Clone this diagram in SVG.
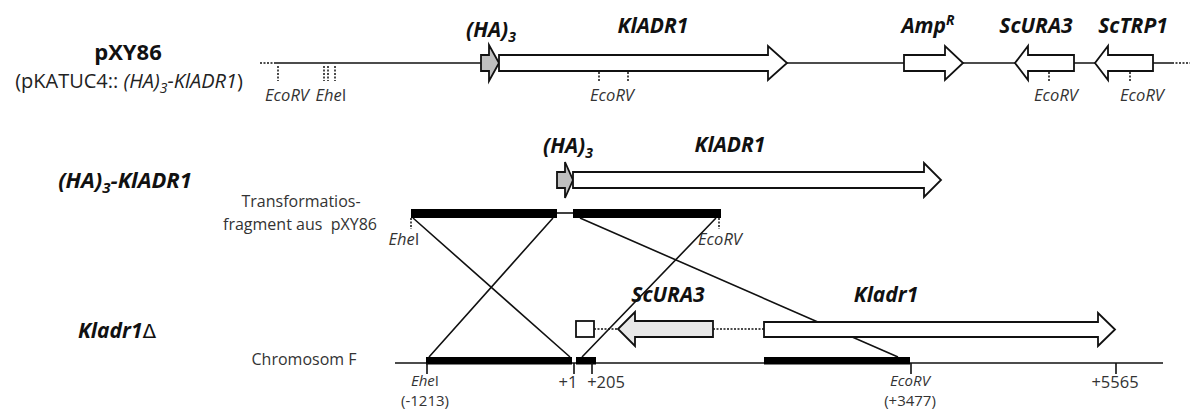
<svg xmlns="http://www.w3.org/2000/svg" width="1190" height="412" viewBox="0 0 1190 412">
<style>
text{font-family:"Open Sans","Liberation Sans",sans-serif;}
.t{font-size:16px;fill:#333;text-anchor:middle;}
.n{font-size:16.5px;fill:#333;text-anchor:middle;}
.s{font-size:15px;fill:#333;text-anchor:middle;}
.i{font-style:italic;}
.g{font-size:21px;font-weight:bold;font-style:italic;fill:#111;text-anchor:middle;}
.h{font-size:22px;font-weight:bold;fill:#111;text-anchor:middle;}
.ln{stroke:#111;stroke-width:1.6;fill:none;}
.dot{stroke:#111;stroke-width:1.5;stroke-dasharray:2,1.5;fill:none;}
.ar{stroke:#111;stroke-width:1.8;fill:#fff;stroke-linejoin:miter;}
.gr{fill:#bfbfbf;}
.lg{fill:#e8e8e8;}
.bar{fill:#000;}
</style>

<g id="labels">
<text class="h" x="128" y="60">pXY86</text>
<text x="129" y="88" style="font-size:20px;fill:#222;text-anchor:middle">(pKATUC4:: <tspan class="i">(HA)</tspan><tspan class="i" font-size="14" dy="5">3</tspan><tspan class="i" dy="-5">-KlADR1</tspan>)</text>
<text x="125" y="188" style="font-size:22px;font-weight:bold;font-style:italic;fill:#111;text-anchor:middle">(HA)<tspan font-size="15" dy="5">3</tspan><tspan dy="-5">-KlADR1</tspan></text>
<text x="78" y="338" style="font-size:21px;font-weight:bold;font-style:italic;fill:#111">Kladr1<tspan style="font-weight:normal;font-style:normal;font-family:'DejaVu Sans',sans-serif;font-size:20px">Δ</tspan></text>
<text class="t" x="301" y="207">Transformatios-</text>
<text class="t" x="300" y="230" xml:space="preserve">fragment aus  pXY86</text>
<text class="t" x="304" y="365">Chromosom F</text>
</g>

<g id="plasmid">
<path class="dot" d="M260,63 H275"/>
<path class="ln" d="M275,63 H1172"/>
<path class="dot" d="M1172,63 H1190"/>
<path class="dot" d="M278,66 V81 M324,66 V81 M328,66 V81 M335,66 V81 M599,72 V81 M628,72 V81 M1049,72 V81 M1130,72 V81"/>
<path class="ar gr" d="M481,55 H489 V45 L499,63 L489,81 V71 H481 Z"/>
<path class="ar" d="M499,55 H768 V46 L787,63 L768,80 V71 H499 Z"/>
<path class="ar" d="M904,55 H945 V46 L963,63 L945,80 V71 H904 Z"/>
<path class="ar" d="M1074,55 H1028 V46 L1015,63 L1028,80 V71 H1074 Z"/>
<path class="ar" d="M1153,55 H1108 V46 L1095,63 L1108,80 V71 H1153 Z"/>
<text class="g" x="491" y="37">(HA)<tspan font-size="14" dy="5">3</tspan></text>
<text class="g" x="653" y="33">KlADR1</text>
<text class="g" x="928" y="33">Amp<tspan font-size="14" dy="-8">R</tspan></text>
<text class="g" x="1036" y="33">ScURA3</text>
<text class="g" x="1133" y="33">ScTRP1</text>
<text class="n i" x="287" y="101">EcoRV</text>
<text class="n" x="331" y="101"><tspan class="i">Ehe</tspan>I</text>
<text class="n i" x="612" y="101">EcoRV</text>
<text class="n i" x="1056" y="101">EcoRV</text>
<text class="n i" x="1142" y="101">EcoRV</text>
</g>

<g id="construct">
<path class="ar gr" d="M557,172 H565 V162 L573,180 L565,198 V188 H557 Z"/>
<path class="ar" d="M573,172 H924 V163 L941,180 L924,197 V188 H573 Z"/>
<text class="g" x="568" y="153">(HA)<tspan font-size="14" dy="5">3</tspan></text>
<text class="g" x="730" y="152">KlADR1</text>
</g>

<g id="fragment">
<path class="ln" d="M557,213 H573"/>
<rect class="bar" x="411" y="209" width="146" height="9"/>
<rect class="bar" x="573" y="209" width="148" height="9"/>
<path class="dot" d="M411,218 V229 M719,218 V229"/>
<text class="n" x="404" y="245"><tspan class="i">Ehe</tspan>I</text>
<text class="n i" x="720" y="245">EcoRV</text>
</g>

<g id="connectors">
<path class="ln" d="M413,218 L570,357 M553,218 L429,357 M580,218 L898,357 M716,218 L582,357"/>
</g>

<g id="chromosome">
<path class="ln" d="M395,363 H1163"/>
<rect class="bar" x="426" y="357" width="146" height="7.5"/>
<rect class="bar" x="576" y="357" width="20" height="7.5"/>
<rect class="bar" x="764" y="357" width="146" height="7.5"/>
<path class="ln" d="M427,363 V374 M574,363 V374 M592,363 V374 M911,363 V374 M1116,363 V374"/>
<rect class="ar" x="576" y="321" width="18" height="16"/>
<path class="dot" d="M594,329 H618 M713,329 H764"/>
<path class="ar lg" d="M713,321 H635 V312 L618,329 L635,346 V337 H713 Z"/>
<path class="ar" d="M764,322 H1098 V313 L1115,329.5 L1098,346 V337 H764 Z"/>
<text class="g" x="668" y="302">ScURA3</text>
<text class="g" x="886" y="302">Kladr1</text>
<text class="s" x="425" y="386"><tspan class="i">Ehe</tspan>I</text>
<text class="s" x="425" y="406">(-1213)</text>
<text class="n" x="568" y="388">+1</text>
<text class="n" x="606" y="388">+205</text>
<text class="s i" x="910" y="386">EcoRV</text>
<text class="s" x="910" y="406">(+3477)</text>
<text class="n" x="1115" y="388">+5565</text>
</g>
</svg>
